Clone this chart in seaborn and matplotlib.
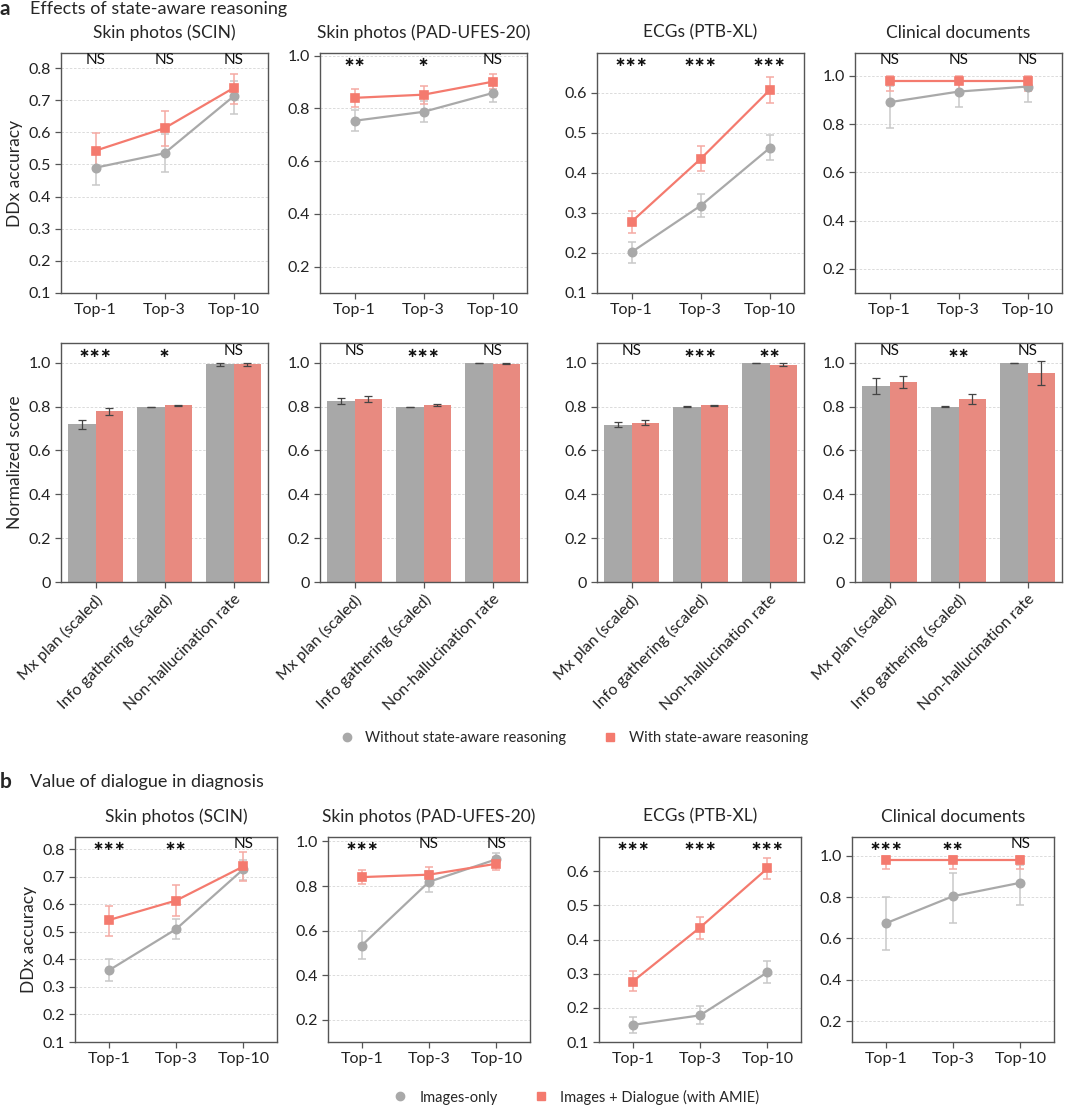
"""State-aware reasoning and dialogue comparison

Recreates the two-part figure: (a) effects of state-aware reasoning and
(b) value of dialogue in diagnosis.
"""
import numpy as np
import pandas as pd
import seaborn as sns
import matplotlib.pyplot as plt
from matplotlib.lines import Line2D
from matplotlib.ticker import FuncFormatter
import matplotlib.transforms as mtransforms

sns.set_theme(style="ticks")
plt.rcParams['font.family'] = ['Lato', 'DejaVu Sans']

# ---- data -------------------------------------------------------------
topk = ["Top-1", "Top-3", "Top-10"]
datasets = ["Skin photos (SCIN)", "Skin photos (PAD-UFES-20)", "ECGs (PTB-XL)", "Clinical documents"]
metrics = ["Mx plan (scaled)", "Info gathering (scaled)", "Non-hallucination rate"]

# (a) line panels: without / with state-aware reasoning
a_without = [[0.490, 0.535, 0.712], [0.753, 0.787, 0.858], [0.202, 0.318, 0.462], [0.891, 0.935, 0.956]]
a_without_lo = [[0.435, 0.478, 0.658], [0.715, 0.750, 0.825], [0.176, 0.289, 0.432], [0.783, 0.870, 0.891]]
a_without_hi = [[0.548, 0.595, 0.760], [0.794, 0.827, 0.892], [0.227, 0.348, 0.494], [0.960, 0.985, 0.995]]
a_with = [[0.543, 0.613, 0.738], [0.840, 0.852, 0.901], [0.278, 0.435, 0.607], [0.979, 0.979, 0.979]]
a_with_lo = [[0.487, 0.557, 0.688], [0.806, 0.818, 0.873], [0.250, 0.405, 0.575], [0.937, 0.937, 0.937]]
a_with_hi = [[0.598, 0.665, 0.783], [0.872, 0.884, 0.930], [0.306, 0.467, 0.640], [1.000, 1.000, 1.000]]
a_sig = [["NS", "NS", "NS"], ["**", "*", "NS"], ["***", "***", "***"], ["NS", "NS", "NS"]]

# (a) bar panels: normalized scores
bar_without = [[0.719, 0.798, 0.992], [0.825, 0.798, 1.000], [0.718, 0.800, 1.000], [0.894, 0.800, 1.000]]
bar_without_err = [[0.021, 0.002, 0.008], [0.012, 0.002, 0.001], [0.012, 0.002, 0.001], [0.037, 0.001, 0.001]]
bar_with = [[0.778, 0.805, 0.992], [0.835, 0.808, 0.996], [0.727, 0.805, 0.991], [0.912, 0.833, 0.955]]
bar_with_err = [[0.016, 0.004, 0.008], [0.014, 0.005, 0.003], [0.011, 0.003, 0.006], [0.028, 0.023, 0.055]]
bar_sig = [["***", "*", "NS"], ["NS", "***", "NS"], ["NS", "***", "**"], ["NS", "**", "NS"]]

# (b) line panels: images-only / images + dialogue
b_without = [[0.360, 0.510, 0.728], [0.533, 0.819, 0.920], [0.150, 0.178, 0.304], [0.673, 0.804, 0.869]]
b_without_lo = [[0.323, 0.473, 0.690], [0.473, 0.771, 0.890], [0.127, 0.153, 0.273], [0.542, 0.674, 0.760]]
b_without_hi = [[0.400, 0.546, 0.760], [0.600, 0.867, 0.950], [0.174, 0.205, 0.336], [0.802, 0.914, 0.956]]
b_with = [[0.543, 0.614, 0.738], [0.840, 0.851, 0.900], [0.277, 0.435, 0.608], [0.979, 0.979, 0.979]]
b_with_lo = [[0.486, 0.558, 0.685], [0.807, 0.815, 0.872], [0.249, 0.401, 0.577], [0.937, 0.937, 0.937]]
b_with_hi = [[0.595, 0.669, 0.790], [0.873, 0.884, 0.929], [0.308, 0.467, 0.639], [1.000, 1.000, 1.000]]
b_sig = [["***", "**", "NS"], ["***", "NS", "NS"], ["***", "***", "***"], ["***", "**", "NS"]]

ylims_line_a = [(0.1, 0.847), (0.1, 1.01), (0.1, 0.7), (0.1, 1.095)]
ylims_line_b = [(0.1, 0.845), (0.1, 1.02), (0.1, 0.7), (0.1, 1.09)]
yticks_line = [np.arange(0.1, 0.81, 0.1), np.arange(0.2, 1.01, 0.2), np.arange(0.1, 0.61, 0.1), np.arange(0.2, 1.01, 0.2)]

GREY = "#a9a9a9"
RED = "#f47a6e"
GREY_ERR = "#c9c9c9"
RED_ERR = "#f5aaa3"
BAR_GREY = "#a8a8a8"
BAR_RED = "#e88a80"
SPINE = "#555555"

fig = plt.figure(figsize=(10.8, 11.06), dpi=100)
W, H = 1080.0, 1106.0


def add_axes(left, top, width, height):
    return fig.add_axes([left / W, 1 - (top + height) / H, width / W, height / H])


def style_axes(ax):
    for sp in ax.spines.values():
        sp.set_color(SPINE)
        sp.set_linewidth(1.0)
        sp.set_visible(True)
    ax.tick_params(axis='both', colors='#222222', labelsize=11.5, length=4, width=0.9)
    ax.tick_params(axis='both', color=SPINE)
    ax.yaxis.grid(True, linestyle=(0, (3, 2)), color='#d6d6d6', linewidth=0.6)
    ax.set_axisbelow(True)
    ax.set_xlabel("")
    ax.set_ylabel("")


def add_sig(ax, labels, ypos):
    trans = mtransforms.blended_transform_factory(ax.transData, ax.transAxes)
    for i, s in enumerate(labels):
        if s == "NS":
            ax.text(i, ypos, s, transform=trans, ha='center', va='center', fontsize=11, color='#111111')
        else:
            # asterisk operator sits on the text centre line like the original stars
            ax.text(i, ypos - 0.01, "\u2217" * len(s), transform=trans, ha='center', va='center',
                    fontsize=9.5, color='#111111', family='DejaVu Sans', fontweight='bold')


def line_panel(ax, cond_a, cond_b, mid_a, lo_a, hi_a, mid_b, lo_b, hi_b, sig, ylim, yticks, ypos):
    df = pd.DataFrame({
        "k": topk * 2,
        "acc": list(mid_a) + list(mid_b),
        "cond": [cond_a] * 3 + [cond_b] * 3,
    })
    x = np.arange(len(topk))
    ax.errorbar(x, mid_a, yerr=[np.array(mid_a) - np.array(lo_a), np.array(hi_a) - np.array(mid_a)],
                fmt='none', ecolor=GREY_ERR, elinewidth=1.1, capsize=3, capthick=1.1, zorder=2)
    ax.errorbar(x, mid_b, yerr=[np.array(mid_b) - np.array(lo_b), np.array(hi_b) - np.array(mid_b)],
                fmt='none', ecolor=RED_ERR, elinewidth=1.1, capsize=3, capthick=1.1, zorder=2)
    sns.pointplot(data=df, x="k", y="acc", hue="cond", palette=[GREY, RED], markers=["o", "s"],
                  linestyles=["-", "-"], errorbar=None, markersize=6, linewidth=1.6, ax=ax, legend=False)
    for coll in ax.collections + ax.lines:
        coll.set_zorder(3)
    ax.set_xlim(-0.5, 2.5)
    ax.set_ylim(*ylim)
    ax.set_yticks(yticks)
    ax.yaxis.set_major_formatter(FuncFormatter(lambda v, p: f"{v:.1f}"))
    style_axes(ax)
    add_sig(ax, sig, ypos)


def bar_panel(ax, mid_a, err_a, mid_b, err_b, sig):
    df = pd.DataFrame({
        "metric": metrics * 2,
        "score": list(mid_a) + list(mid_b),
        "cond": ["without"] * 3 + ["with"] * 3,
    })
    sns.barplot(data=df, x="metric", y="score", hue="cond", palette=[BAR_GREY, BAR_RED],
                errorbar=None, width=0.8, saturation=1, linewidth=0, ax=ax, legend=False)
    for cont, err in zip(ax.containers, [err_a, err_b]):
        xs = [b.get_x() + b.get_width() / 2 for b in cont]
        ys = [b.get_height() for b in cont]
        ax.errorbar(xs, ys, yerr=err, fmt='none', ecolor='#444444', elinewidth=0.9,
                    capsize=3, capthick=0.9, zorder=4)
    ax.set_xlim(-0.5, 2.5)
    ax.set_ylim(0, 1.09)
    ax.set_yticks(np.arange(0, 1.01, 0.2))
    ax.yaxis.set_major_formatter(FuncFormatter(lambda v, p: "0" if abs(v) < 1e-9 else f"{v:.1f}"))
    style_axes(ax)
    ax.set_xticks(range(3))
    ax.set_xticklabels(metrics, rotation=45, ha='right', rotation_mode='anchor')
    add_sig(ax, sig, 0.967)


lefts_a = [61, 320, 597, 855]
lefts_b = [75, 328, 599, 852]

# ---- part a -----------------------------------------------------------
for i in range(4):
    ax = add_axes(lefts_a[i], 53, 207, 240)
    line_panel(ax, "Without state-aware reasoning", "With state-aware reasoning",
               a_without[i], a_without_lo[i], a_without_hi[i],
               a_with[i], a_with_lo[i], a_with_hi[i],
               a_sig[i], ylims_line_a[i], yticks_line[i], 0.97)
    ax.set_title(datasets[i], fontsize=12.5, pad=11)
    if i == 0:
        ax.set_ylabel("DDx accuracy", fontsize=12.5)

for i in range(4):
    ax = add_axes(lefts_a[i], 343, 207, 239)
    bar_panel(ax, bar_without[i], bar_without_err[i], bar_with[i], bar_with_err[i], bar_sig[i])
    if i == 0:
        ax.set_ylabel("Normalized score", fontsize=12.5)

handles_a = [Line2D([], [], marker='o', color=GREY, linestyle='none', markersize=6),
             Line2D([], [], marker='s', color=RED, linestyle='none', markersize=6)]
fig.legend(handles_a, ["Without state-aware reasoning", "With state-aware reasoning"],
           loc='center', bbox_to_anchor=(0.528, 1 - 738 / H), ncol=2, frameon=False,
           fontsize=10.5, handletextpad=0.3, columnspacing=2.0)

fig.text(0.0, 1 - 9 / H, "a", fontsize=15, fontweight='bold', va='center', ha='left')
fig.text(30 / W, 1 - 9 / H, "Effects of state-aware reasoning", fontsize=13, va='center', ha='left')

# ---- part b -----------------------------------------------------------
for i in range(4):
    ax = add_axes(lefts_b[i], 837, 202, 205)
    line_panel(ax, "Images-only", "Images + Dialogue (with AMIE)",
               b_without[i], b_without_lo[i], b_without_hi[i],
               b_with[i], b_with_lo[i], b_with_hi[i],
               b_sig[i], ylims_line_b[i], yticks_line[i], 0.966)
    ax.set_title(datasets[i], fontsize=12.5, pad=11)
    if i == 0:
        ax.set_ylabel("DDx accuracy", fontsize=12.5)

handles_b = [Line2D([], [], marker='o', color=GREY, linestyle='none', markersize=6),
             Line2D([], [], marker='s', color=RED, linestyle='none', markersize=6)]
fig.legend(handles_b, ["Images-only", "Images + Dialogue (with AMIE)"],
           loc='center', bbox_to_anchor=(0.53, 1 - 1097 / H), ncol=2, frameon=False,
           fontsize=10.5, handletextpad=0.3, columnspacing=2.0)

fig.text(0.0, 1 - 782 / H, "b", fontsize=15, fontweight='bold', va='center', ha='left')
fig.text(30 / W, 1 - 782 / H, "Value of dialogue in diagnosis", fontsize=13, va='center', ha='left')

fig.savefig("out.png", dpi=100)
